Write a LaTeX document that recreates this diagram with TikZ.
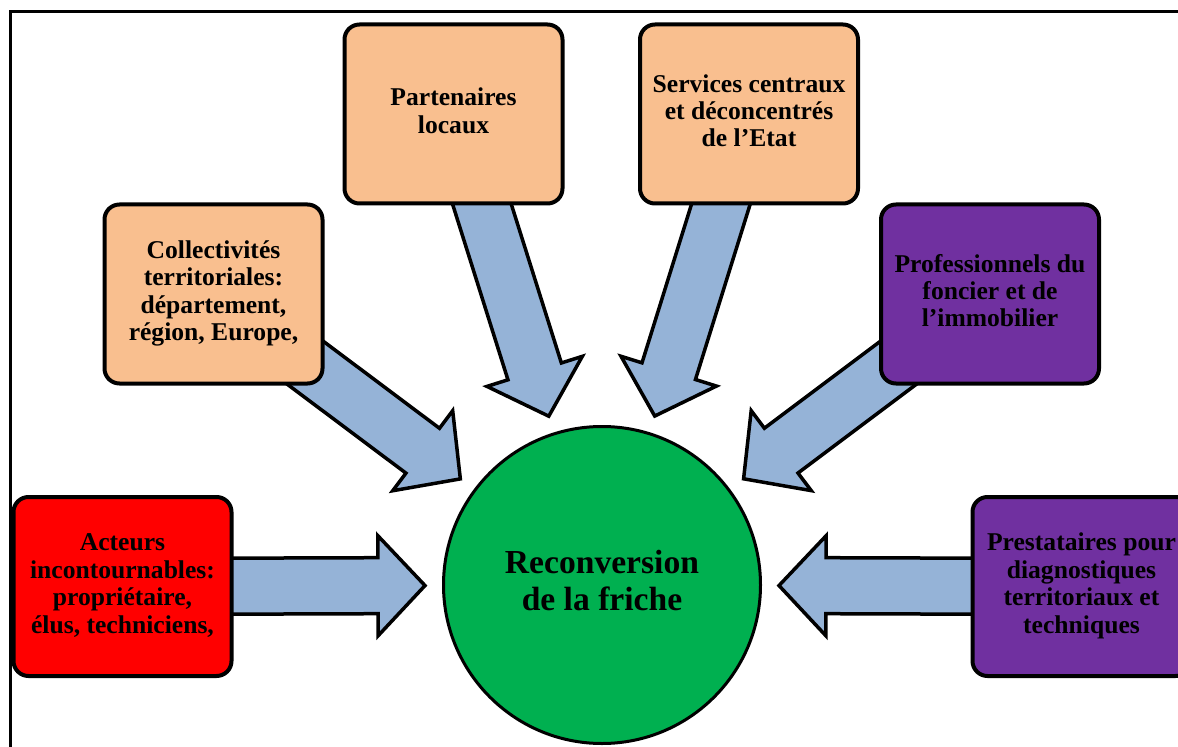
\documentclass[tikz,border=0pt]{standalone}
\usepackage{fontspec}
\setmainfont{Liberation Serif}
\usetikzlibrary{calc}
\pgfdeclarelayer{bg}
\pgfsetlayers{bg,main}
\definecolor{peach}{HTML}{F9BF8F}
\definecolor{purp}{HTML}{7030A0}
\definecolor{redbox}{HTML}{FF0000}
\definecolor{greenc}{HTML}{00B050}
\definecolor{arrowblue}{HTML}{95B3D7}
\tikzset{
  box/.style={draw=black, line width=2pt, rounded corners=7.5pt,
    minimum width=109pt, minimum height=89.5pt, inner sep=0pt,
    font=\bfseries\fontsize{12.8}{13.7}\selectfont},
  hub/.style={circle, draw=black, line width=1.5pt, fill=greenc,
    minimum size=158.5pt, inner sep=0pt,
    font=\bfseries\fontsize{16.8}{18.5}\selectfont},
  barrow/.style={draw=black, line width=1.75pt, fill=arrowblue, line join=miter},
  frame/.style={draw=black, line width=1.5pt}
}
\newcommand\lines[2]{\raisebox{#1}{\begin{tabular}{@{}c@{}}#2\end{tabular}}}
\newcommand\blockarrow[2]{%
  \coordinate (ta) at ($(#2.center)!88.5pt!(#1.center)$);
  \coordinate (hb) at ($(#2.center)!112pt!(#1.center)$);
  \coordinate (tl) at ($(#2.center)!215pt!(#1.center)$);
  \draw[barrow] (ta) -- ($(hb)!25pt!90:(ta)$) -- ($(hb)!14pt!90:(ta)$)
    -- ($(tl)!14pt!90:(hb)$) -- ($(tl)!14pt!-90:(hb)$)
    -- ($(hb)!14pt!-90:(ta)$) -- ($(hb)!25pt!-90:(ta)$) -- cycle;}
\begin{document}
\begin{tikzpicture}[x=0.5pt,y=0.5pt]
\useasboundingbox (0,0) rectangle (1178,746);
\clip (0,0) rectangle (1178,746);
\begin{pgfonlayer}{bg}
\fill[white] (0,0) rectangle (1178,746);
\end{pgfonlayer}
\coordinate (fa) at (10,-40);
\coordinate (fb) at (10,734);
\coordinate (fc) at (1220,734);
\draw[frame] (fa) -- (fb) -- (fc);

\node[hub] (c) at (602,161) {\lines{2.5pt}{Reconversion\\de la friche}};

\node[box, fill=redbox] (act) at (122.5,159.5)
  {\lines{1.5pt}{Acteurs\\incontournables:\\propriétaire,\\élus, techniciens,}};
\node[box, fill=peach] (coll) at (213.5,452)
  {\lines{1.5pt}{Collectivités\\territoriales:\\département,\\région, Europe,}};
\node[box, fill=peach] (part) at (453.5,632)
  {\lines{1.5pt}{Partenaires\\locaux}};
\node[box, fill=peach] (serv) at (749,632)
  {\lines{1.5pt}{Services centraux\\et déconcentrés\\de l’Etat}};
\node[box, fill=purp] (prof) at (990,452)
  {\lines{1.5pt}{Professionnels du\\foncier et de\\l’immobilier}};
\node[box, fill=purp] (prest) at (1081.5,159.5)
  {\lines{1.5pt}{Prestataires pour\\diagnostiques\\territoriaux et\\techniques}};

\begin{pgfonlayer}{bg}
\blockarrow{act}{c}
\blockarrow{coll}{c}
\blockarrow{part}{c}
\blockarrow{serv}{c}
\blockarrow{prof}{c}
\blockarrow{prest}{c}
\end{pgfonlayer}
\end{tikzpicture}
\end{document}
